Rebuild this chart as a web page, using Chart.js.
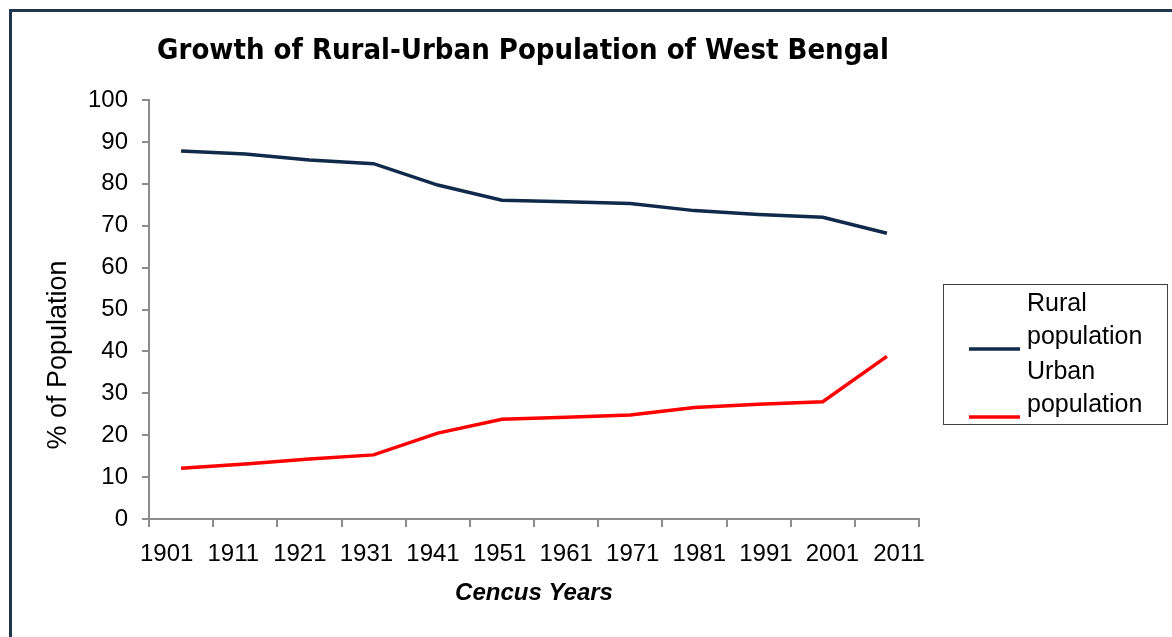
<!DOCTYPE html>
<html>
<head>
<meta charset="utf-8">
<script src="https://cdn.jsdelivr.net/npm/chart.js@4.4.1/dist/chart.umd.min.js"></script>
<style>
html,body{margin:0;padding:0;background:#fff;overflow:hidden}
#wrap{position:relative;width:1172px;height:637px;background:#fff}
#frame{position:absolute;left:9px;top:9px;width:1200px;height:700px;border-left:3px solid #1f3550;border-top:3px solid #1f3550;pointer-events:none}
canvas{position:absolute;left:0;top:0}
</style>
</head>
<body>
<div id="wrap"><canvas id="c" width="1172" height="637"></canvas><div id="frame"></div></div>
<script>
// ---- data ----
const years = ['1901','1911','1921','1931','1941','1951','1961','1971','1981','1991','2001','2011'];
const rural = [87.8, 87.1, 85.7, 84.8, 79.7, 76.1, 75.7, 75.3, 73.6, 72.7, 72.0, 68.2];
const urban = [12.1, 13.1, 14.3, 15.3, 20.5, 23.8, 24.3, 24.8, 26.6, 27.4, 28.0, 38.8];
const seriesNames = [['Rural', 'population'], ['Urban', 'population']];
const yTicks = [0,10,20,30,40,50,60,70,80,90,100];
const chartTitle = 'Growth of Rural-Urban Population of West Bengal';
const yTitle = '% of Population';
const xTitle = 'Cencus Years';

const GRAY = '#8c8c8c';
const FONT = "'Liberation Sans', Arial, sans-serif";

const overlay = {
  id: 'overlay',
  afterDraw(chart) {
    const ctx = chart.ctx;
    ctx.save();
    ctx.fillStyle = '#000';
    // chart title
    ctx.font = "bold 29px 'DejaVu Sans Condensed', 'DejaVu Sans', sans-serif";
    ctx.textAlign = 'center';
    ctx.textBaseline = 'alphabetic';
    ctx.fillText(chartTitle, 523, 59);
    // y axis title
    ctx.save();
    ctx.translate(59, 355);
    ctx.rotate(-Math.PI / 2);
    ctx.font = '27px ' + FONT;
    ctx.textBaseline = 'middle';
    ctx.fillText(yTitle, 0, 0);
    ctx.restore();
    // legend
    ctx.strokeStyle = '#404040';
    ctx.lineWidth = 1;
    ctx.strokeRect(943.5, 284.5, 224, 140);
    const entryTops = [0, 68];
    chart.data.datasets.forEach((ds, i) => {
      const base = 284 + entryTops[i];
      ctx.font = '25px ' + FONT;
      ctx.textAlign = 'left';
      ctx.textBaseline = 'alphabetic';
      ctx.fillStyle = '#000';
      ds.legendLines.forEach((t, j) => ctx.fillText(t, 1027, base + 27 + j * 33));
      ctx.strokeStyle = ds.borderColor;
      ctx.lineWidth = 3.5;
      ctx.beginPath();
      ctx.moveTo(969, base + 65);
      ctx.lineTo(1020, base + 65);
      ctx.stroke();
    });
    ctx.restore();
  }
};

new Chart(document.getElementById('c'), {
  type: 'line',
  data: {
    labels: years,
    datasets: [
      { label: seriesNames[0].join(' '), legendLines: seriesNames[0], data: rural, borderColor: '#0f2a4a', borderWidth: 3.5, pointRadius: 0, tension: 0, fill: false },
      { label: seriesNames[1].join(' '), legendLines: seriesNames[1], data: urban, borderColor: '#ff0000', borderWidth: 3.5, pointRadius: 0, tension: 0, fill: false }
    ]
  },
  options: {
    responsive: false,
    animation: false,
    events: [],
    layout: { padding: { left: 0, top: 100, right: 253, bottom: 0 } },
    plugins: { legend: { display: false }, title: { display: false }, tooltip: { enabled: false } },
    scales: {
      x: {
        type: 'category',
        offset: true,
        weight: 0,
        grid: { offset: true, drawOnChartArea: false, drawTicks: true, tickLength: 8, color: GRAY, lineWidth: 2 },
        border: { display: true, color: GRAY, width: 2 },
        ticks: { display: false },
        afterFit: s => { s.height = 8; }
      },
      x2: {
        type: 'linear',
        position: 'bottom',
        weight: 1,
        min: -0.266,
        max: 11.30,
        grid: { display: false, drawTicks: false },
        border: { display: false },
        afterBuildTicks: s => { s.ticks = years.map((_, i) => ({ value: i })); },
        ticks: {
          autoSkip: false,
          maxRotation: 0,
          padding: 13,
          color: '#000',
          font: { family: FONT, size: 24 },
          callback: v => years[v]
        },
        title: { display: true, text: xTitle, color: '#000', font: { family: FONT, size: 24, weight: 'bold', style: 'italic' }, padding: { top: 0, bottom: 29 } },
        afterFit: s => { s.height = 110; }
      },
      y: {
        min: 0,
        max: 100,
        afterBuildTicks: s => { s.ticks = yTicks.map(v => ({ value: v })); },
        grid: { drawOnChartArea: false, drawTicks: true, tickLength: 7, color: GRAY, lineWidth: 2 },
        border: { display: true, color: GRAY, width: 2 },
        ticks: { padding: 14, color: '#000', font: { family: FONT, size: 24 } },
        afterFit: s => { s.width = 149; }
      }
    }
  },
  plugins: [overlay]
});
</script>
</body>
</html>
